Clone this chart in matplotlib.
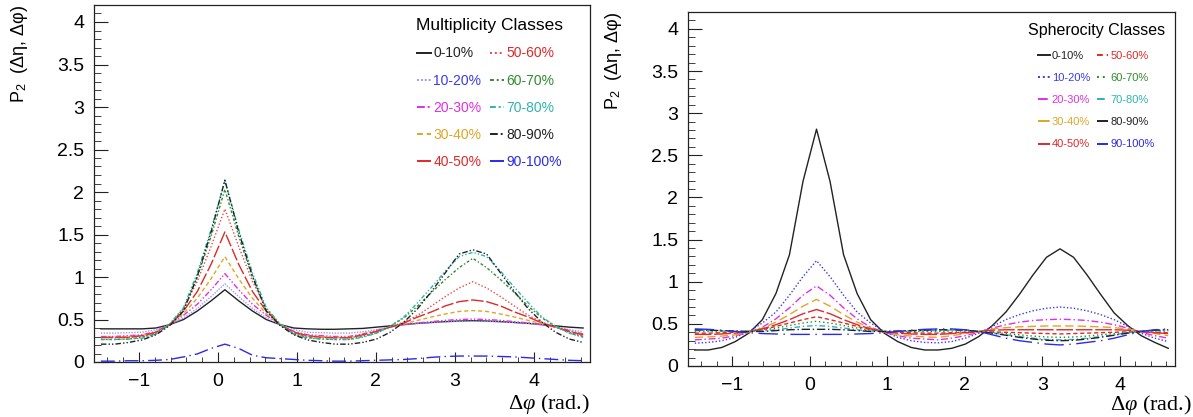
import numpy as np
import matplotlib
matplotlib.use("Agg")
import matplotlib.pyplot as plt
from matplotlib.ticker import MultipleLocator, FuncFormatter
from matplotlib.lines import Line2D

plt.rcParams["font.family"] = ["Liberation Sans", "DejaVu Sans"]
plt.rcParams["mathtext.fontset"] = "custom"
plt.rcParams["mathtext.rm"] = "Liberation Sans"
plt.rcParams["mathtext.it"] = "Liberation Serif:italic"

# 36 bins in delta phi, from -pi/2 to 3pi/2
nbins = 36
dphi = -np.pi / 2 + (np.arange(nbins) + 0.5) * (2 * np.pi / nbins)

classes = ["0-10%", "10-20%", "20-30%", "30-40%", "40-50%",
           "50-60%", "60-70%", "70-80%", "80-90%", "90-100%"]

# multiplicity classes (left)
mult_0_10 = [0.39, 0.39, 0.39, 0.39, 0.40, 0.44, 0.50, 0.60, 0.72, 0.85, 0.72, 0.60, 0.50, 0.44, 0.40, 0.39, 0.385, 0.385,
             0.39, 0.395, 0.41, 0.425, 0.44, 0.455, 0.465, 0.475, 0.482, 0.486, 0.482, 0.475, 0.465, 0.455, 0.44, 0.425, 0.41, 0.40]
mult_10_20 = [0.34, 0.34, 0.345, 0.35, 0.38, 0.44, 0.52, 0.63, 0.77, 0.92, 0.77, 0.63, 0.52, 0.44, 0.38, 0.35, 0.345, 0.34,
              0.34, 0.355, 0.38, 0.41, 0.44, 0.455, 0.465, 0.472, 0.477, 0.48, 0.477, 0.472, 0.465, 0.455, 0.44, 0.41, 0.38, 0.355]
mult_20_30 = [0.30, 0.30, 0.31, 0.32, 0.36, 0.44, 0.55, 0.68, 0.85, 1.04, 0.85, 0.68, 0.55, 0.44, 0.36, 0.32, 0.31, 0.30,
              0.30, 0.33, 0.37, 0.415, 0.44, 0.46, 0.475, 0.49, 0.50, 0.505, 0.50, 0.49, 0.475, 0.46, 0.44, 0.415, 0.37, 0.33]
mult_30_40 = [0.29, 0.29, 0.30, 0.31, 0.35, 0.44, 0.57, 0.75, 0.98, 1.24, 0.98, 0.75, 0.57, 0.44, 0.35, 0.31, 0.30, 0.29,
              0.29, 0.32, 0.36, 0.41, 0.45, 0.49, 0.53, 0.565, 0.595, 0.605, 0.595, 0.565, 0.53, 0.49, 0.45, 0.41, 0.36, 0.32]
mult_40_50 = [0.29, 0.29, 0.29, 0.31, 0.35, 0.44, 0.60, 0.83, 1.15, 1.53, 1.15, 0.83, 0.60, 0.44, 0.35, 0.31, 0.29, 0.285,
              0.285, 0.32, 0.36, 0.41, 0.46, 0.53, 0.59, 0.66, 0.71, 0.73, 0.71, 0.66, 0.59, 0.53, 0.46, 0.41, 0.36, 0.32]
mult_50_60 = [0.285, 0.285, 0.29, 0.30, 0.34, 0.44, 0.63, 0.95, 1.36, 1.80, 1.36, 0.95, 0.63, 0.44, 0.34, 0.30, 0.29, 0.285,
              0.285, 0.31, 0.35, 0.41, 0.47, 0.55, 0.66, 0.77, 0.87, 0.945, 0.87, 0.77, 0.66, 0.55, 0.47, 0.41, 0.35, 0.31]
mult_60_70 = [0.265, 0.265, 0.27, 0.29, 0.33, 0.44, 0.62, 1.00, 1.48, 2.03, 1.48, 1.00, 0.62, 0.44, 0.33, 0.29, 0.27, 0.265,
              0.265, 0.30, 0.34, 0.42, 0.52, 0.66, 0.82, 0.97, 1.11, 1.22, 1.11, 0.97, 0.82, 0.66, 0.52, 0.42, 0.34, 0.30]
mult_70_80 = [0.265, 0.265, 0.27, 0.28, 0.33, 0.45, 0.64, 1.05, 1.56, 2.13, 1.56, 1.05, 0.64, 0.45, 0.33, 0.28, 0.27, 0.265,
              0.265, 0.29, 0.34, 0.42, 0.53, 0.70, 0.88, 1.07, 1.24, 1.29, 1.24, 1.07, 0.88, 0.70, 0.53, 0.42, 0.34, 0.29]
mult_80_90 = [0.21, 0.21, 0.23, 0.26, 0.32, 0.43, 0.60, 1.01, 1.53, 2.14, 1.53, 1.01, 0.60, 0.43, 0.32, 0.26, 0.23, 0.21,
              0.21, 0.23, 0.27, 0.35, 0.47, 0.63, 0.83, 1.05, 1.27, 1.32, 1.27, 1.05, 0.83, 0.63, 0.47, 0.35, 0.27, 0.23]
mult_90_100 = [0.01, 0.01, 0.015, 0.015, 0.02, 0.03, 0.06, 0.095, 0.16, 0.21, 0.16, 0.08, 0.05, 0.04, 0.03, 0.02, 0.015, 0.01,
               0.01, 0.015, 0.02, 0.025, 0.03, 0.04, 0.055, 0.065, 0.07, 0.07, 0.07, 0.065, 0.06, 0.05, 0.04, 0.03, 0.02, 0.015]

# spherocity classes (right)
spher_0_10 = [0.19, 0.19, 0.22, 0.29, 0.39, 0.55, 0.86, 1.32, 2.19, 2.81, 2.19, 1.32, 0.86, 0.55, 0.39, 0.29, 0.22, 0.19,
              0.19, 0.21, 0.26, 0.35, 0.48, 0.64, 0.85, 1.08, 1.29, 1.39, 1.29, 1.08, 0.85, 0.63, 0.48, 0.36, 0.28, 0.21]
spher_10_20 = [0.27, 0.28, 0.30, 0.34, 0.41, 0.51, 0.64, 0.84, 1.06, 1.25, 1.06, 0.84, 0.64, 0.51, 0.41, 0.34, 0.30, 0.28,
               0.275, 0.29, 0.33, 0.39, 0.47, 0.55, 0.61, 0.655, 0.685, 0.70, 0.685, 0.655, 0.61, 0.55, 0.47, 0.39, 0.33, 0.29]
spher_20_30 = [0.31, 0.32, 0.33, 0.36, 0.40, 0.46, 0.56, 0.69, 0.84, 0.95, 0.84, 0.69, 0.56, 0.46, 0.40, 0.36, 0.33, 0.32,
               0.31, 0.33, 0.36, 0.40, 0.45, 0.49, 0.52, 0.54, 0.55, 0.555, 0.55, 0.54, 0.52, 0.49, 0.45, 0.40, 0.36, 0.33]
spher_30_40 = [0.34, 0.345, 0.355, 0.37, 0.40, 0.45, 0.52, 0.61, 0.71, 0.79, 0.71, 0.61, 0.52, 0.45, 0.40, 0.37, 0.355, 0.345,
               0.34, 0.36, 0.385, 0.41, 0.44, 0.455, 0.465, 0.47, 0.475, 0.475, 0.475, 0.47, 0.465, 0.455, 0.44, 0.41, 0.385, 0.36]
spher_40_50 = [0.375, 0.375, 0.38, 0.39, 0.405, 0.44, 0.49, 0.55, 0.62, 0.67, 0.62, 0.55, 0.49, 0.44, 0.405, 0.39, 0.38, 0.375,
               0.375, 0.385, 0.395, 0.41, 0.425, 0.43, 0.43, 0.43, 0.43, 0.43, 0.43, 0.43, 0.43, 0.43, 0.425, 0.41, 0.395, 0.385]
spher_50_60 = [0.39, 0.39, 0.395, 0.40, 0.41, 0.43, 0.47, 0.51, 0.55, 0.585, 0.55, 0.51, 0.47, 0.43, 0.41, 0.40, 0.395, 0.39,
               0.39, 0.395, 0.40, 0.405, 0.405, 0.40, 0.395, 0.39, 0.385, 0.38, 0.385, 0.39, 0.395, 0.40, 0.405, 0.405, 0.40, 0.395]
spher_60_70 = [0.41, 0.41, 0.41, 0.41, 0.41, 0.425, 0.45, 0.48, 0.51, 0.53, 0.51, 0.48, 0.45, 0.425, 0.41, 0.41, 0.41, 0.41,
               0.41, 0.415, 0.415, 0.41, 0.40, 0.385, 0.37, 0.355, 0.345, 0.34, 0.345, 0.355, 0.37, 0.385, 0.40, 0.41, 0.415, 0.415]
spher_70_80 = [0.42, 0.42, 0.415, 0.41, 0.41, 0.415, 0.43, 0.45, 0.47, 0.48, 0.47, 0.45, 0.43, 0.415, 0.41, 0.41, 0.415, 0.42,
               0.42, 0.425, 0.42, 0.41, 0.395, 0.37, 0.35, 0.33, 0.315, 0.31, 0.315, 0.33, 0.35, 0.37, 0.395, 0.41, 0.42, 0.425]
spher_80_90 = [0.43, 0.425, 0.42, 0.415, 0.41, 0.41, 0.42, 0.43, 0.435, 0.435, 0.435, 0.43, 0.42, 0.41, 0.41, 0.415, 0.42, 0.425,
               0.43, 0.43, 0.425, 0.41, 0.39, 0.365, 0.34, 0.32, 0.305, 0.30, 0.305, 0.32, 0.34, 0.365, 0.39, 0.41, 0.425, 0.43]
spher_90_100 = [0.44, 0.435, 0.425, 0.41, 0.395, 0.385, 0.38, 0.375, 0.375, 0.375, 0.375, 0.375, 0.38, 0.385, 0.395, 0.41, 0.425, 0.435,
                0.44, 0.44, 0.43, 0.41, 0.37, 0.33, 0.30, 0.28, 0.26, 0.25, 0.26, 0.28, 0.30, 0.33, 0.37, 0.41, 0.43, 0.44]

mult = [mult_0_10, mult_10_20, mult_20_30, mult_30_40, mult_40_50,
        mult_50_60, mult_60_70, mult_70_80, mult_80_90, mult_90_100]
spher = [spher_0_10, spher_10_20, spher_20_30, spher_30_40, spher_40_50,
         spher_50_60, spher_60_70, spher_70_80, spher_80_90, spher_90_100]

colors = ["#222222", "#3a3ae8", "#e030e0", "#e0a528", "#e02828",
          "#e02828", "#2e8b2e", "#2fb3b3", "#222222", "#2a2ae8"]
line_colors_mult = ["#222222", "#9a9af5", "#e030e0", "#e0a528", "#e02828",
                    "#e84848", "#2e8b2e", "#2fb3b3", "#222222", "#2a2ae8"]

styles_mult = ["-", (0, (1, 1)), (0, (4, 1.5, 1, 1.5, 1, 1.5)), (0, (3, 2)), (0, (9, 2)),
               (0, (1, 1.5)), (0, (2, 1.5, 1, 1.5)), (0, (3, 1.5, 1, 1.5, 1, 1.5)),
               (0, (4, 1.5, 1, 1.5, 1, 1.5)), (0, (10, 3, 1, 3))]
styles_spher = ["-", (0, (1, 1.5)), (0, (5, 2, 1, 2)), (0, (6, 3)), (0, (12, 2)),
                (0, (3, 2)), (0, (1, 2)), (0, (4, 2, 1, 2)), (0, (6, 2, 1, 2)), (0, (14, 4, 1, 4))]


def fmt(v, pos):
    return f"{v:g}".replace("-", "\u2212")


def panel(ax, data, lcolors, styles, title, fs_title, fs_leg, spacing, leg_xy):
    handles = []
    for i in range(len(classes)):
        ax.plot(dphi, data[i], color=lcolors[i], linestyle=styles[i], lw=1.0)
        handles.append(Line2D([], [], color=lcolors[i], linestyle=styles[i], lw=1.4))
    ax.set_xlim(-np.pi / 2, 3 * np.pi / 2)
    ax.set_ylim(0, 4.2)
    ax.xaxis.set_major_locator(MultipleLocator(1))
    ax.xaxis.set_minor_locator(MultipleLocator(0.2))
    ax.yaxis.set_major_locator(MultipleLocator(0.5))
    ax.yaxis.set_minor_locator(MultipleLocator(0.1))
    ax.xaxis.set_major_formatter(FuncFormatter(fmt))
    ax.yaxis.set_major_formatter(FuncFormatter(fmt))
    ax.tick_params(which="both", direction="in", top=False, right=False, labelsize=14, color="#222222")
    ax.tick_params(axis="y", which="major", length=10, pad=7)
    ax.tick_params(axis="y", which="minor", length=5)
    ax.tick_params(axis="x", which="major", length=7, pad=8)
    ax.tick_params(axis="x", which="minor", length=3.5)
    for s in ax.spines.values():
        s.set_linewidth(0.9)
        s.set_color("#222222")
    ax.set_ylabel("P$_{\\mathrm{2}}$  (\u0394\u03b7, \u0394\u03c6)", fontsize=13, loc="top")
    ax.set_xlabel("\u0394$\\varphi$ (rad.)", fontsize=16, family="Liberation Serif", loc="right")
    leg = ax.legend(handles, classes, ncols=2, frameon=False, title=title,
                    title_fontsize=fs_title, fontsize=fs_leg, labelcolor=colors,
                    loc="upper left", bbox_to_anchor=leg_xy, handlelength=1.0,
                    handletextpad=0.2, columnspacing=0.6, labelspacing=spacing,
                    borderaxespad=0, borderpad=0)
    return leg


fig = plt.figure(figsize=(11.93, 4.17), dpi=100)
ax1 = fig.add_axes([94 / 1193, 1 - 362 / 417, 496 / 1193, 357 / 417])
ax2 = fig.add_axes([688 / 1193, 1 - 366 / 417, 487 / 1193, 354 / 417])

panel(ax1, mult, line_colors_mult, styles_mult, "Multiplicity Classes", 12.5, 10, 0.95, (0.649, 0.963))
panel(ax2, spher, colors, styles_spher, "Spherocity Classes", 11.5, 8, 1.1, (0.698, 0.968))

ax1.yaxis.set_label_coords(-0.129, 1.0)
ax2.yaxis.set_label_coords(-0.131, 1.0)
ax1.xaxis.set_label_coords(1.0, -0.085)
ax2.xaxis.set_label_coords(1.035, -0.075)

fig.savefig("out.png", dpi=100)
